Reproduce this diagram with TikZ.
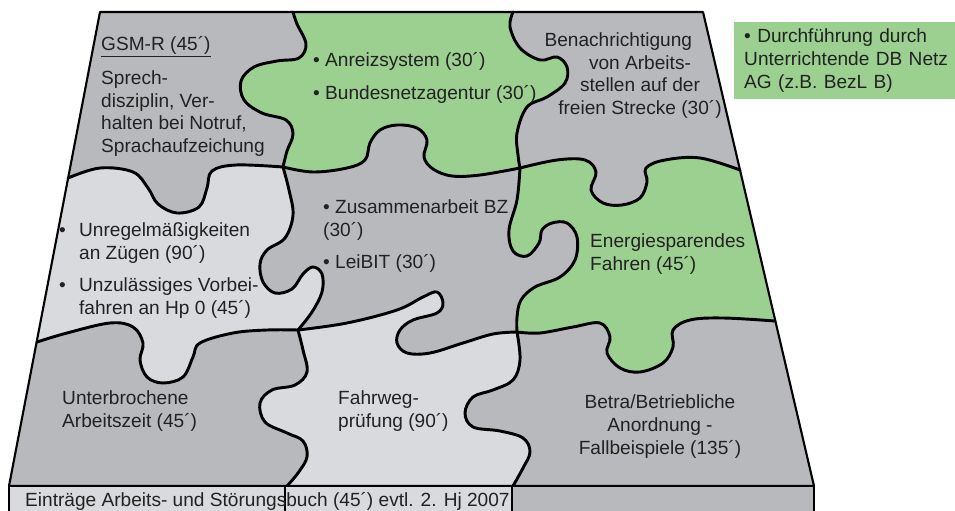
\documentclass[tikz,border=0pt]{standalone}
\usepackage{fontspec}
\setmainfont{Liberation Sans}

\definecolor{pzgrey}{HTML}{B8B9BC}
\definecolor{pzlight}{HTML}{D9DADD}
\definecolor{pzgreen}{HTML}{9BD090}
\definecolor{pztext}{HTML}{222222}

\newcommand{\pzfont}{\fontsize{16.3pt}{19.6pt}\selectfont}

% cut lines between the pieces (pixel grid, y downwards)
\newcommand{\cutHAl}{-- plot[smooth,tension=.6] coordinates {(68,178) (100,168) (133,172) (148,188) (158,204) (177,213) (199,207) (207,188) (212,171) (236,165) (283,167)}}
\newcommand{\cutHAm}{-- plot[smooth,tension=.6] coordinates {(283,167) (313,172) (347,168) (365,160) (370,143) (380,130) (397,125) (417,128) (427,140) (424,157) (433,169) (452,176) (480,175) (520,168)}}
\newcommand{\cutHAr}{-- plot[smooth,tension=.6] coordinates {(520,168) (557,160) (585,160) (596,172) (591,190) (603,203) (622,205) (640,198) (647,182) (646,168) (665,160) (700,158) (740,170)}}
\newcommand{\cutHBl}{-- plot[smooth,tension=.6] coordinates {(37,342) (67,333) (110,323) (133,327) (143,343) (140,360) (147,377) (163,383) (183,377) (193,357) (200,343) (233,333) (267,330) (298,330)}}
\newcommand{\cutHBm}{-- plot[smooth,tension=.6] coordinates {(298,330) (347,323) (397,310) (423,297) (437,292) (443,303) (437,313) (413,320) (400,330) (397,343) (407,353) (430,353) (463,343) (493,334) (517,332)}}
\newcommand{\cutHBr}{-- plot[smooth,tension=.6] coordinates {(517,332) (540,333) (573,327) (600,323) (610,337) (607,353) (620,368) (640,372) (663,363) (673,347) (673,330) (690,320) (723,318) (775,321)}}
\newcommand{\cutVAt}{-- plot[smooth,tension=.6] coordinates {(293,12) (297,24) (306,44) (299,58) (277,61) (254,67) (241,81) (244,100) (262,113) (286,120) (293,134) (287,151) (283,167)}}
\newcommand{\cutVAm}{-- plot[smooth,tension=.6] coordinates {(283,167) (289,190) (293,215) (285,238) (267,250) (260,264) (263,282) (275,293) (292,289) (303,274) (313,267) (322,274) (322,292) (312,312) (298,330)}}
\newcommand{\cutVAb}{-- plot[smooth,tension=.6] coordinates {(298,330) (303,350) (307,372) (295,385) (272,390) (260,403) (265,422) (287,433) (303,441) (307,457) (298,473) (287,486)}}
\newcommand{\cutVBt}{-- plot[smooth,tension=.6] coordinates {(513,12) (510,27) (520,48) (540,60) (557,57) (567,67) (565,83) (547,97) (527,107) (517,133) (518,155) (520,168)}}
\newcommand{\cutVBm}{-- plot[smooth,tension=.6] coordinates {(520,168) (517,200) (509,230) (513,251) (527,256) (539,243) (542,230) (552,223) (567,223) (577,237) (575,260) (560,277) (535,287) (521,300) (517,317) (517,332)}}
\newcommand{\cutVBb}{-- plot[smooth,tension=.6] coordinates {(517,332) (520,360) (513,380) (493,390) (473,397) (465,413) (473,427) (500,431) (523,438) (530,452) (523,468) (513,486)}}

\begin{document}
\begin{tikzpicture}[x=0.03cm,y=-0.03cm,
  cut/.style={line width=2.5pt,line join=round,line cap=round},
  rim/.style={line width=1.8pt,line join=round},
  sidewall/.style={line width=1.4pt},
  lbl/.style={font=\pzfont,text=pztext,inner sep=0pt,align=left,
              anchor=north west},
  legend/.style={lbl,fill=pzgreen,inner xsep=0.3cm,inner ysep=0.2cm,
                 text width=6.12cm,minimum height=2.31cm}
]
\useasboundingbox (0,0) rectangle (955,511);

% board
\fill[pzgrey] (100,12) -- (703,12) -- (814,486) -- (9,486) -- cycle;
\begin{scope}
  \clip (100,12) -- (703,12) -- (814,486) -- (9,486) -- cycle;
  % Anreizsystem piece
  \begin{scope}
    \clip (293,0) \cutVAt -- (283,500) -- (960,500) -- (960,0) -- cycle;
    \clip (513,0) \cutVBt -- (520,500) -- (0,500) -- (0,0) -- cycle;
    \clip (0,167) -- (283,167) \cutHAm -- (960,168) -- (960,0) -- (0,0) -- cycle;
    \fill[pzgreen] (0,0) rectangle (960,511);
  \end{scope}
  % Energiesparendes Fahren piece
  \begin{scope}
    \clip (520,0) -- (520,168) \cutVBm -- (517,511) -- (960,511) -- (960,0) -- cycle;
    \clip (0,168) -- (520,168) \cutHAr -- (960,170) -- (960,511) -- (0,511) -- cycle;
    \clip (0,332) -- (517,332) \cutHBr -- (960,321) -- (960,0) -- (0,0) -- cycle;
    \fill[pzgreen] (0,0) rectangle (960,511);
  \end{scope}
  % Unregelmaessigkeiten piece
  \begin{scope}
    \clip (283,0) -- (283,167) \cutVAm -- (298,511) -- (0,511) -- (0,0) -- cycle;
    \clip (0,178) -- (68,178) \cutHAl -- (960,167) -- (960,511) -- (0,511) -- cycle;
    \clip (0,342) -- (37,342) \cutHBl -- (960,330) -- (960,0) -- (0,0) -- cycle;
    \fill[pzlight] (0,0) rectangle (960,511);
  \end{scope}
  % Fahrwegpruefung piece
  \begin{scope}
    \clip (298,0) -- (298,330) \cutVAb -- (287,511) -- (960,511) -- (960,0) -- cycle;
    \clip (517,0) -- (517,332) \cutVBb -- (513,511) -- (0,511) -- (0,0) -- cycle;
    \clip (0,330) -- (298,330) \cutHBm -- (960,332) -- (960,511) -- (0,511) -- cycle;
    \fill[pzlight] (0,0) rectangle (960,511);
  \end{scope}
\end{scope}

% cuts
\draw[cut] (68,178) \cutHAl;
\draw[cut] (283,167) \cutHAm;
\draw[cut] (520,168) \cutHAr;
\draw[cut] (37,342) \cutHBl;
\draw[cut] (298,330) \cutHBm;
\draw[cut] (517,332) \cutHBr;
\draw[cut] (293,12) \cutVAt;
\draw[cut] (283,167) \cutVAm;
\draw[cut] (298,330) \cutVAb;
\draw[cut] (513,12) \cutVBt;
\draw[cut] (520,168) \cutVBm;
\draw[cut] (517,332) \cutVBb;
\draw[rim] (100,12) -- (703,12) -- (814,486) -- (9,486) -- cycle;

% front side
\fill[pzlight] (9,486) rectangle (512,514);
\fill[pzgrey] (512,486) rectangle (814,514);
\draw[sidewall] (9,514) -- (9,486) -- (814,486) -- (814,514);
\draw[sidewall] (285,486) -- (285,514);
\draw[sidewall] (512,486) -- (512,514);

% texts
\node[lbl] (gsm) at (101,36) {\underline{GSM-R (45´)}};
\node[lbl] (sprech) at (101,70) {Sprech-\\disziplin, Ver-\\halten bei Notruf,\\Sprachaufzeichung};
\node[lbl] (anreiz) at (313,52) {• Anreizsystem (30´)\\[8.5pt]• Bundesnetzagentur (30´)};
\node[lbl,anchor=north,align=center] (benach) at (640,32)
  {Benachrichtigung\hspace*{37pt}\\von Arbeits-\\stellen auf der\\freien Strecke (30´)};
\node[lbl] (zusammen) at (323,199) {• Zusammenarbeit BZ\\(30´)\\[8.5pt]• LeiBIT (30´)};
\node[lbl] (unregel) at (59,222)
  {\makebox[17pt][l]{•}Unregelmäßigkeiten\\\hspace*{17pt}an Zügen (90´)\\[8.5pt]%
   \makebox[17pt][l]{•}Unzulässiges Vorbei-\\\hspace*{17pt}fahren an Hp 0 (45´)};
\node[lbl] (energie) at (590,233) {Energiesparendes\\Fahren (45´)};
\node[lbl] (unterbr) at (62,390) {Unterbrochene\\Arbeitszeit (45´)};
\node[lbl] (fahrweg) at (338,390) {Fahrweg-\\prüfung (90´)};
\node[lbl,anchor=north,align=center] (betra) at (660,394)
  {Betra/Betriebliche\\Anordnung -\\Fallbeispiele (135´)};
\node[lbl,anchor=west] (eintrag) at (25,501)
  {Einträge Arbeits- und Störungsbuch (45´) evtl. 2. Hj 2007};

% legend
\node[legend] (hinweis) at (734,22)
  {• Durchführung durch\\Unterrichtende DB Netz\\AG (z.B. BezL B)};
\end{tikzpicture}
\end{document}
